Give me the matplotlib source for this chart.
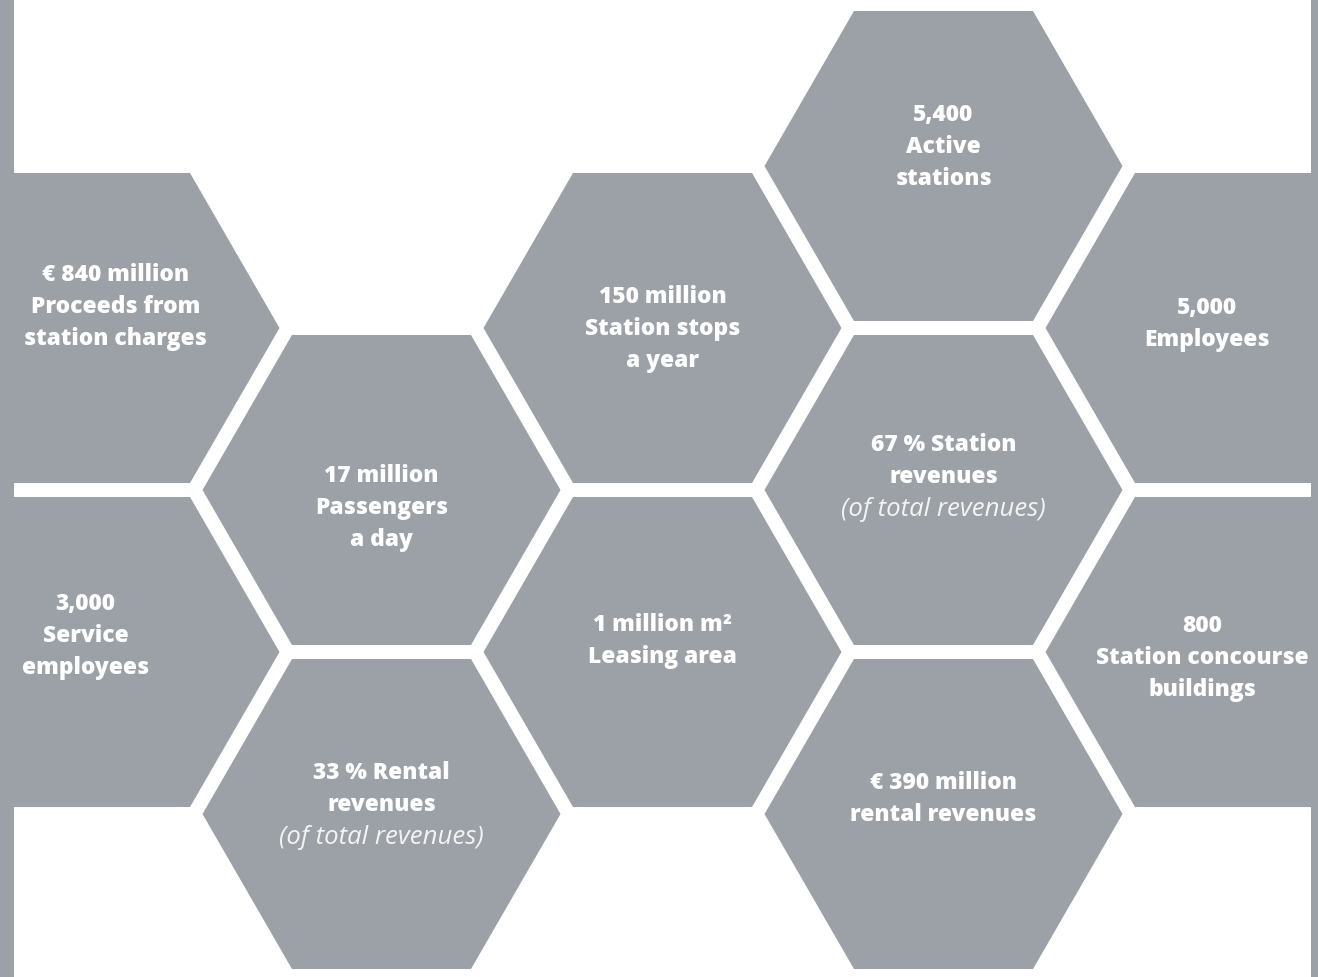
import numpy as np
import matplotlib
matplotlib.use("Agg")
import matplotlib.pyplot as plt
from matplotlib.patches import RegularPolygon, Rectangle

# ---- data ----
headlines = [
    "€ 840 million\nProceeds from\nstation charges",
    "3,000\nService\nemployees",
    "17 million\nPassengers\na day",
    "33 % Rental\nrevenues",
    "150 million\nStation stops\na year",
    "1 million m²\nLeasing area",
    "5,400\nActive\nstations",
    "67 % Station\nrevenues",
    "€ 390 million\nrental revenues",
    "5,000\nEmployees",
    "800\nStation concourse\nbuildings",
]
notes = ["", "", "", "(of total revenues)", "", "", "", "(of total revenues)", "", "", ""]

# hexagon lattice positions (column index, vertical slot in half-steps)
hex_col = [0, 0, 1, 1, 2, 2, 3, 3, 3, 4, 4]
hex_slot = [2, 4, 3, 5, 2, 4, 1, 3, 5, 2, 4]
# text centre offsets (pixels) relative to hex centre
text_dx = [15, -15, 0, 0, 0, 0, 0, 0, 0, -17, -22]
text_dy = [-22, -17, 17, -10, 0, -12, -20, -14, -16, -5, 5]

W, H = 1318, 978
GRAY = "#9ba1a6"
R = 179.0
X0, DX = 100.5, 281.0
Y0, DY = 5.0, 162.0

fig = plt.figure(figsize=(W / 100, H / 100), dpi=100)
ax = fig.add_axes([0, 0, 1, 1])
ax.set_xlim(0, W)
ax.set_ylim(H, 0)
ax.axis("off")

# frame strips
ax.add_patch(Rectangle((0, 0), 14, H, color=GRAY, lw=0))
ax.add_patch(Rectangle((1311, 0), W - 1311, H, color=GRAY, lw=0))

bold = dict(family=["Open Sans", "DejaVu Sans"], weight="heavy", fontsize=16.4,
            color="white", ha="center", va="center")

for i, txt in enumerate(headlines):
    cx = X0 + DX * hex_col[i]
    cy = Y0 + DY * hex_slot[i]
    ax.add_patch(RegularPolygon((cx, cy), numVertices=6, radius=R,
                                orientation=np.pi / 6,
                                color=GRAY, lw=0))
    n_lines = txt.count("\n") + 1 + (1 if notes[i] else 0)
    tx = cx + text_dx[i]
    ty = cy + text_dy[i]
    lh = 32
    top = ty - (n_lines - 1) * lh / 2
    for k, line in enumerate(txt.split("\n")):
        ax.text(tx, top + k * lh, line, **bold)
    if notes[i]:
        ax.text(tx, top + (n_lines - 1) * lh, notes[i],
                family=["Open Sans", "DejaVu Sans"], style="italic", weight="normal",
                fontsize=18.5, color="#f4f4f4", ha="center", va="center")

fig.savefig("out.png", dpi=100, facecolor="white")
